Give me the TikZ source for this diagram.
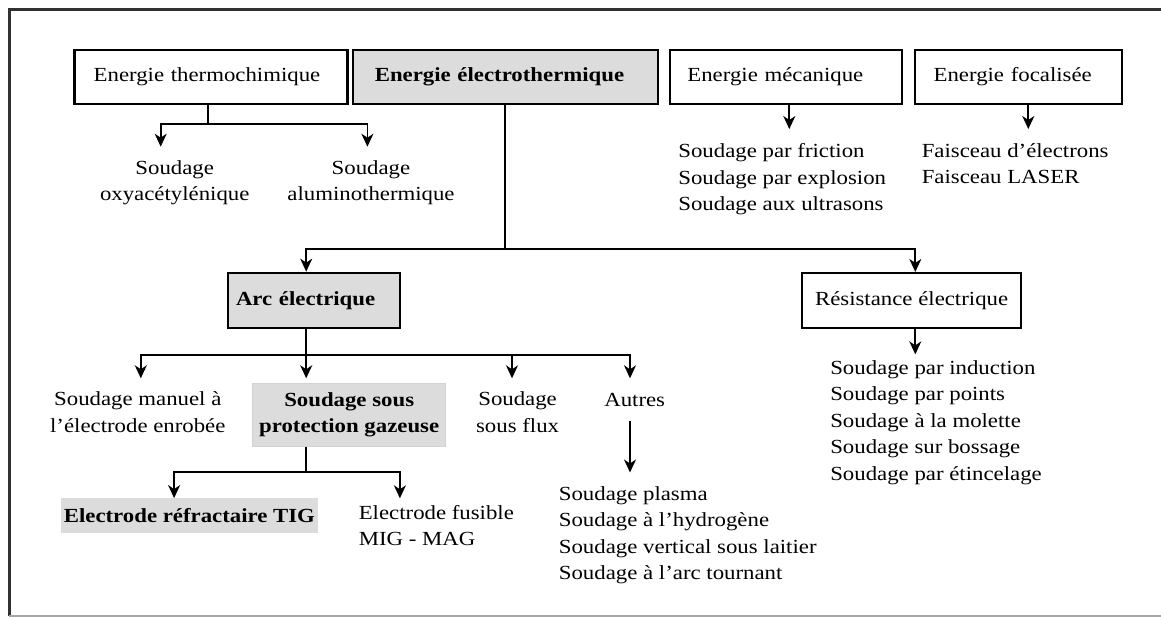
\documentclass[tikz,border=0pt]{standalone}
\usepackage{fontspec}
\setmainfont{Liberation Serif}[FakeStretch=1.14]
\usetikzlibrary{positioning,arrows.meta}
\definecolor{fondgris}{RGB}{220,220,220}
\definecolor{traitcadre}{RGB}{50,50,50}
\newcommand{\corps}{\fontsize{20pt}{26.5pt}\selectfont}
\tikzset{
  cadre/.style={draw, line width=2.1pt, inner sep=0pt, minimum height=54pt},
  cadregras/.style={cadre, fill=fondgris, font=\corps\bfseries},
  calage/.style={text width=#1, align=left},
  plaque/.style={fill=fondgris, inner sep=0pt, font=\corps\bfseries},
  libre/.style={inner xsep=0pt, inner ysep=#1, align=center, anchor=north},
  liste/.style={inner xsep=0pt, inner ysep=#1, align=left, anchor=north west},
  lien/.style={line width=1.7pt},
  fleche/.style={lien, -{Stealth[length=13pt,width=12pt,inset=4pt]}}
}

\begin{document}
\begin{tikzpicture}[x=1pt,y=-1pt,font=\corps]
\useasboundingbox (0,0) rectangle (1161,617);
\draw[line width=3pt, traitcadre] (1161,10) -- (9,10) -- (9,616);
\draw[line width=1.8pt, gray!70] (9,616) -- (1161,616);

\node[cadre, minimum width=273pt, calage=234.6pt] (thermo) at (211,77) {Energie thermochimique};
\node[cadregras, minimum width=305pt, calage=261pt] (electro) at (505.3,77) {Energie électrothermique};
\node[cadre, minimum width=232.6pt, calage=197.2pt] (meca) at (786,77) {Energie mécanique};
\node[cadre, minimum width=207.4pt, calage=169.4pt] (focal) at (1018.3,77) {Energie focalisée};

\node[libre=13.3pt] (oxy) at (174.7,146.7) {Soudage\\oxyacétylénique};
\node[libre=13.3pt] (alu) at (371,146.7) {Soudage\\aluminothermique};
\node[liste=15.3pt] (mecaliste) at (678.2,128) {Soudage par friction\\Soudage par explosion\\Soudage aux ultrasons};
\node[liste=15pt] (focaliste) at (921.6,128) {Faisceau d’électrons\\Faisceau LASER};

\node[cadregras, minimum width=172.2pt, minimum height=55pt, calage=155.6pt] (arc) at (313.8,300.2) {Arc électrique};
\node[cadre, minimum width=218.6pt, minimum height=55pt] (resist) at (911.6,300.5) {Résistance électrique};
\node[liste=6.7pt] (resliste) at (830.1,353.3) {Soudage par induction\\Soudage par points\\Soudage à la molette\\Soudage sur bossage\\Soudage par étincelage};

\node[libre=13.4pt] (manuel) at (137.8,378.3) {Soudage manuel à\\l’électrode enrobée};
\node[plaque, draw=gray!35, line width=1pt, minimum width=193.2pt, minimum height=63.4pt, align=center] (gaz) at (349.2,415) {Soudage sous\\protection gazeuse};
\node[libre=13.4pt] (flux) at (517.6,378.3) {Soudage\\sous flux};
\node[libre=14.7pt] (autres) at (634.7,378.3) {Autres};
\node[liste=14pt] (autresliste) at (558.7,472) {Soudage plasma\\Soudage à l’hydrogène\\Soudage vertical sous laitier\\Soudage à l’arc tournant};

\node[plaque, minimum width=256.4pt, minimum height=35pt] (tig) at (189.4,515.8) {Electrode réfractaire TIG};
\node[liste=6.7pt] (mig) at (358.6,498.3) {Electrode fusible\\MIG - MAG};

\draw[lien] ([xshift=-3.2pt]thermo.south) -- ++(0,18.7) coordinate (jt);
\draw[fleche] (jt) -| ([xshift=-14pt]oxy.north);
\draw[fleche] (jt) -| ([xshift=-3.6pt]alu.north);
\draw[fleche] ([xshift=3.3pt]meca.south) -- ++(0,24);
\draw[fleche] ([xshift=10pt]focal.south) -- ++(0,24);

\draw[lien] (electro.south) -- ++(0,144.3) coordinate (je);
\draw[fleche] (je) -| ([xshift=-7.6pt]arc.north);
\draw[fleche] (je) -| ([xshift=3.7pt]resist.north);
\draw[fleche] ([xshift=3.7pt]resist.south) -- ++(0,25.3);

\draw[lien] ([xshift=-7.6pt]arc.south) -- ++(0,26.3) coordinate (ja);
\draw[fleche] (ja) -| ([xshift=3pt]manuel.north);
\draw[fleche] (ja) -- (ja |- flux.north);
\draw[fleche] (ja) -| ([xshift=-5.6pt]flux.north);
\draw[fleche] (ja) -| ([xshift=-4.7pt]autres.north);
\draw[fleche] ([xshift=-4.7pt]autres.south) -- ++(0,51);

\draw[lien] ([xshift=-43pt]gaz.south) -- ++(0,25) coordinate (jg);
\draw[fleche] (jg) -| ([xshift=-15.3pt]tig.north);
\draw[fleche] (jg) -| ([xshift=41.3pt]mig.north west);
\end{tikzpicture}
\end{document}
